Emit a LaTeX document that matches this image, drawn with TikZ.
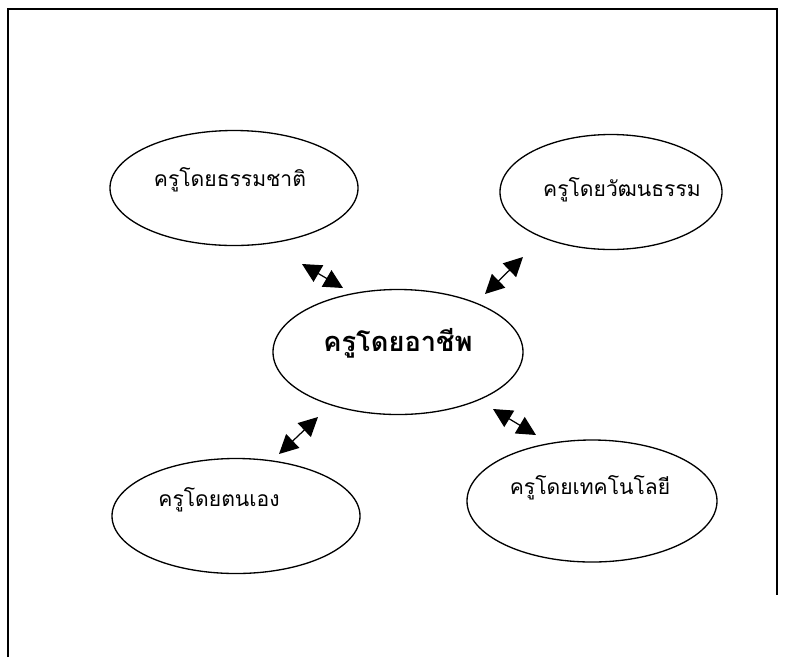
\documentclass[tikz,border=0pt]{standalone}
\usepackage{fontspec}
\newfontfamily\thaifont[Script=Thai]{Loma}
\usetikzlibrary{shapes.geometric}
\usetikzlibrary{arrows.meta}
\usetikzlibrary{positioning, calc}

\begin{document}
\begin{tikzpicture}[x=0.2mm, y=-0.2mm]
              \tikzstyle{topic} = [ellipse, draw=black, line width=0.75pt, minimum width=49.6mm, minimum height=23mm, inner sep=0pt]
              \tikzstyle{word} = [font=\thaifont\fontsize{12}{14}\selectfont, inner sep=0pt]
              \tikzstyle{link} = [{Triangle[length=3.8mm,width=3.8mm]}-{Triangle[length=3.8mm,width=3.8mm]}, line width=0.7pt]
              \useasboundingbox (0,0) rectangle (786,657);
              \draw[line width=0.8pt] (8,657) -- (8,9) -- (777,9) -- (777,595);
              \node (job) [topic, minimum width=50mm, minimum height=25mm] at (398,352) {};
              \node (nat) [topic] at (234,188) {};
              \node (cul) [topic, minimum width=44.4mm] at (611,192) {};
              \node (self) [topic] at (236,516) {};
              \node (tech) [topic, minimum width=50mm, minimum height=24.4mm] at (592,501) {};
              \node (jobtxt) [word, font=\thaifont\bfseries\fontsize{15.5}{18}\selectfont] at ([yshift=1.8mm]job) {ครูโดยอาชีพ};
              \node (nattxt) [word] at ([xshift=-0.8mm, yshift=1.6mm]nat) {ครูโดยธรรมชาติ};
              \node (cultxt) [word] at ([xshift=2.2mm, yshift=0.4mm]cul) {ครูโดยวัฒนธรรม};
              \node (selftxt) [word] at ([xshift=-3.4mm, yshift=3.2mm]self) {ครูโดยตนเอง};
              \node (techtxt) [word] at ([xshift=-0.4mm, yshift=2.6mm]tech) {ครูโดยเทคโนโลยี};
              % short double arrows between the outer ideas and the middle one
              \coordinate (a1) at (302,264); \coordinate (b1) at (343,288);
              \coordinate (a2) at (523,257); \coordinate (b2) at (485,294);
              \coordinate (a3) at (318,417); \coordinate (b3) at (279,454);
              \coordinate (a4) at (493,409); \coordinate (b4) at (536,435);
              \draw[link] (a1) -- (b1);
              \draw[link] (a2) -- (b2);
              \draw[link] (a3) -- (b3);
              \draw[link] (a4) -- (b4);
            \end{tikzpicture}
\end{document}
